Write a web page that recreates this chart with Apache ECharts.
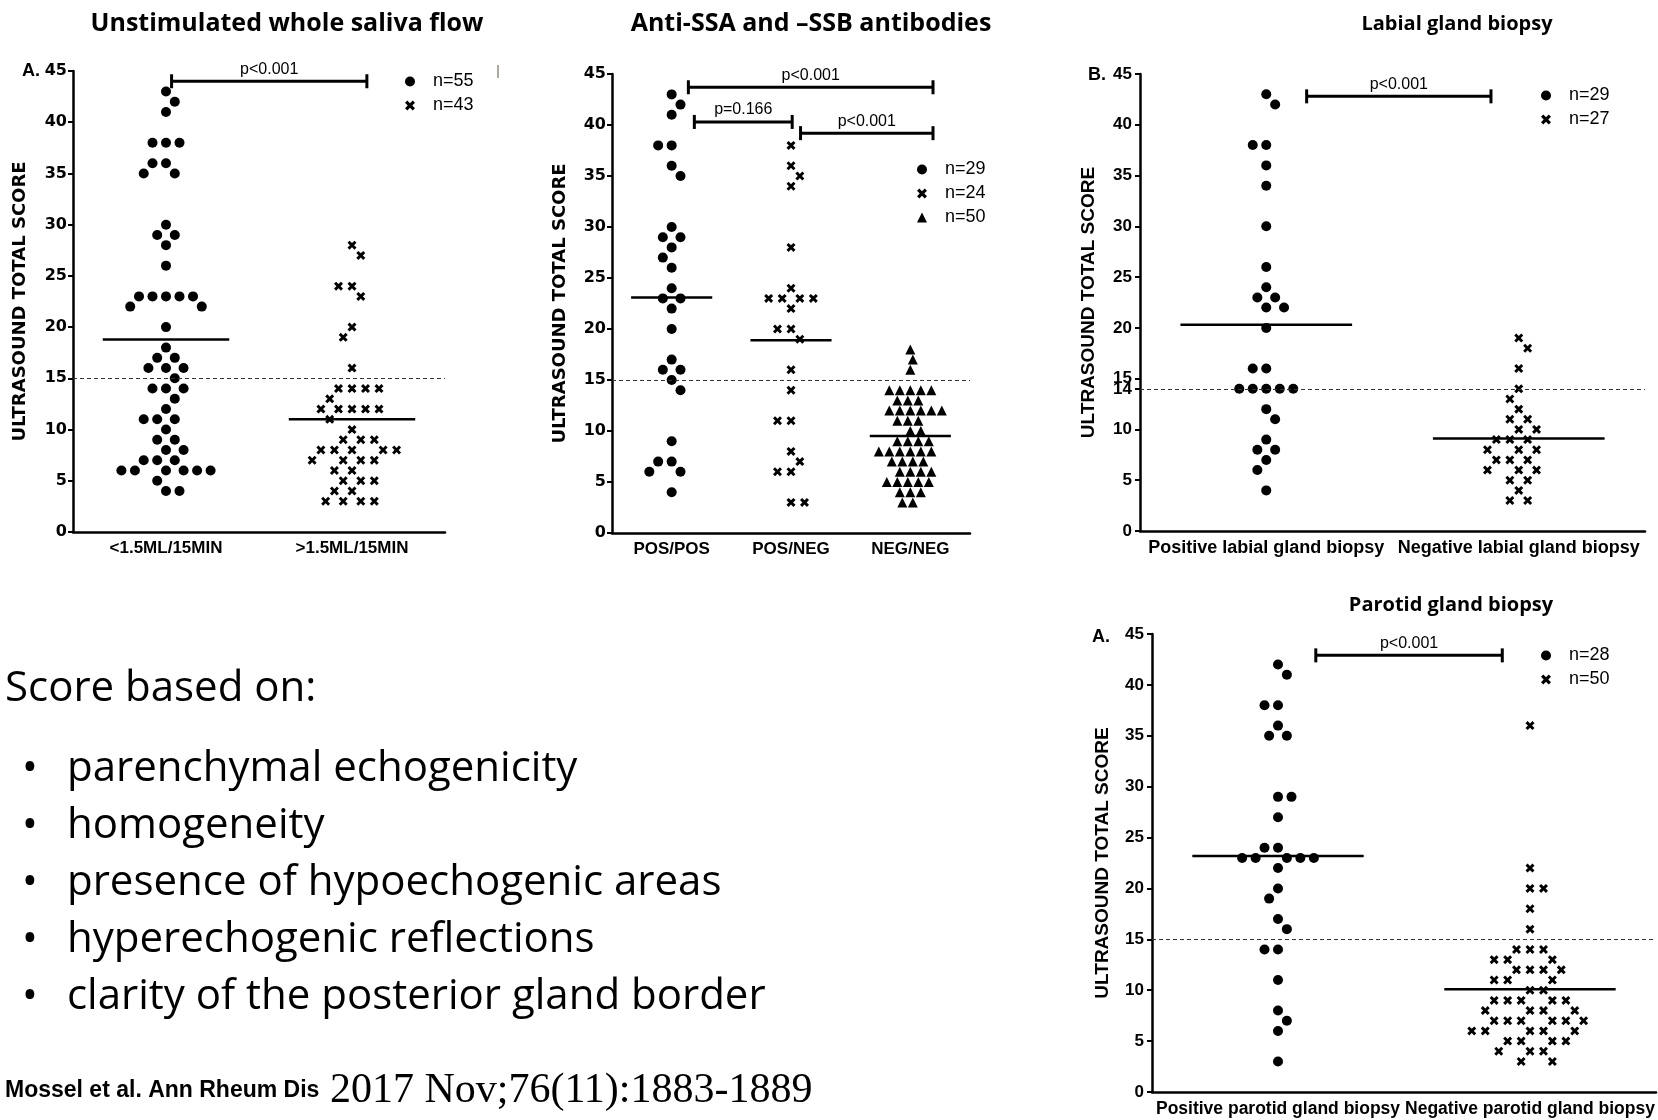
<!DOCTYPE html>
<html><head><meta charset="utf-8">
<script src="https://cdn.jsdelivr.net/npm/echarts@6/dist/echarts.min.js"></script>
<style>html,body{margin:0;padding:0;background:#fff}#c{width:1658px;height:1120px}</style>
</head><body><div id="c"></div>
<script>
// ---------- DATA ----------
const salivaCategories = ['<1.5ML/15MIN', '>1.5ML/15MIN'];
const salivaLow = [43,42,41,38,38,38,36,36,35,35,30,29,29,28,26,23,23,23,23,23,22,22,20,18,17,17,16,16,16,15,14,14,14,13,12,11,11,11,10,9,9,8,8,7,7,7,6,6,6,6,6,6,5,4,4];
const salivaHigh = [28,27,24,24,23,20,19,16,14,14,14,14,13,12,12,12,12,12,11,10,9,9,9,8,8,8,8,8,7,7,7,7,6,6,5,5,5,4,4,3,3,3,3];
const salivaMeans = [18.8, 11.0];
const salivaLegend = ['n=55', 'n=43'];
const salivaBrackets = [{from: 0.03, to: 1.08, y: 44.0, label: 'p<0.001'}];

const abCategories = ['POS/POS', 'POS/NEG', 'NEG/NEG'];
const abPosPos = [43,42,41,38,38,36,35,30,29,29,28,27,26,24,23,23,22,20,17,16,16,15,14,9,7,7,6,6,4];
const abPosNeg = [38,36,35,34,28,24,23,23,23,23,22,20,20,19,16,14,11,11,8,7,6,6,3,3];
const abNegNeg = [18,17,16,14,14,14,14,14,13,13,13,12,12,12,12,12,12,11,11,11,10,10,9,9,9,9,8,8,8,8,8,8,7,7,7,7,6,6,6,6,5,5,5,5,5,4,4,4,3,3];
const abMeans = [23.1, 18.9, 9.5];
const abLegend = ['n=29', 'n=24', 'n=50'];
const abBrackets = [
  {from: 0.14, to: 2.19, y: 43.7, label: 'p<0.001'},
  {from: 0.19, to: 1.01, y: 40.3, label: 'p=0.166'},
  {from: 1.08, to: 2.19, y: 39.2, label: 'p<0.001'}
];

const labialCategories = ['Positive labial gland biopsy', 'Negative labial gland biopsy'];
const labialPos = [43,42,38,38,36,34,30,26,24,23,23,22,22,20,16,16,14,14,14,14,14,12,11,9,8,8,7,6,4];
const labialNeg = [19,18,16,14,13,12,11,11,10,10,9,9,9,8,8,8,7,7,7,6,6,6,5,5,4,3,3];
const labialMeans = [20.3, 9.1];
const labialLegend = ['n=29', 'n=27'];
const labialBrackets = [{from: 0.16, to: 0.89, y: 42.8, label: 'p<0.001'}];

const parotidCategories = ['Positive parotid gland biopsy', 'Negative parotid gland biopsy'];
const parotidPos = [42,41,38,38,36,35,35,29,29,27,24,24,23,23,23,23,23,22,20,19,17,16,14,14,11,8,7,6,3];
const parotidNeg = [36,22,20,20,18,16,14,14,14,13,13,13,12,12,12,12,11,11,11,10,10,9,9,9,9,9,8,8,8,8,7,7,7,7,7,7,6,6,6,6,6,5,5,5,5,4,4,4,3,3];
const parotidMeans = [23.2, 10.1];
const parotidLegend = ['n=28', 'n=50'];
const parotidBrackets = [{from: 0.15, to: 0.89, y: 42.9, label: 'p<0.001'}];

const yTicks = [0,5,10,15,20,25,30,35,40,45];
const labialYTicks = [0,5,10,14,15,20,25,30,35,40,45];
const thresholds = [15, 15, 14, 15];

const panelTitles = ['Unstimulated whole saliva flow', 'Anti-SSA and \u2013SSB antibodies', 'Labial gland biopsy', 'Parotid gland biopsy'];
const yAxisName = 'ULTRASOUND TOTAL SCORE';
const scoreHeading = 'Score based on:';
const scoreItems = ['parenchymal echogenicity', 'homogeneity', 'presence of hypoechogenic areas', 'hyperechogenic reflections', 'clarity of the posterior gland border'];
const citationBold = 'Mossel et al. Ann Rheum Dis';
const citationRest = ' 2017 Nov;76(11):1883-1889';

// ---------- STYLE / LAYOUT ----------
const CROSS = 'path://M2.3,0 L5,2.7 L7.7,0 L10,2.3 L7.3,5 L10,7.7 L7.7,10 L5,7.3 L2.3,10 L0,7.7 L2.7,5 L0,2.3 Z';
const SYM = {circle: {symbol: 'circle', size: 10, D: 13.5}, cross: {symbol: CROSS, size: 9, D: 13.5}, tri: {symbol: 'triangle', size: 10, D: 10.5}};

const panels = [
  {grid: {left: 73, top: 71, width: 372, height: 461}, cats: salivaCategories, groups: [salivaLow, salivaHigh], syms: ['circle','cross'], means: salivaMeans, legend: salivaLegend, legendPos: {left: 405, top: 71}, brackets: salivaBrackets,
   fam: 'DejaVu Sans', xFam: 'Liberation Sans', tickSize: 16, xSize: 17, nameSize: 18, nameGap: 44, margin: 6, ticks: yTicks},
  {grid: {left: 612, top: 74, width: 358, height: 459}, cats: abCategories, groups: [abPosPos, abPosNeg, abNegNeg], syms: ['circle','cross','tri'], means: abMeans, legend: abLegend, legendPos: {left: 917, top: 159}, brackets: abBrackets,
   fam: 'DejaVu Sans', xFam: 'Liberation Sans', tickSize: 16, xSize: 17, nameSize: 18, nameGap: 43, margin: 6, ticks: yTicks},
  {grid: {left: 1140, top: 74, width: 505, height: 457}, cats: labialCategories, groups: [labialPos, labialNeg], syms: ['circle','cross'], means: labialMeans, legend: labialLegend, legendPos: {left: 1541, top: 85}, brackets: labialBrackets,
   fam: 'Liberation Sans', xFam: 'Liberation Sans', tickSize: 17, xSize: 18, nameSize: 19, nameGap: 42, margin: 8, ticks: labialYTicks},
  {grid: {left: 1152, top: 634, width: 504, height: 458}, cats: parotidCategories, groups: [parotidPos, parotidNeg], syms: ['circle','cross'], means: parotidMeans, legend: parotidLegend, legendPos: {left: 1541, top: 645}, brackets: parotidBrackets,
   fam: 'Liberation Sans', xFam: 'Liberation Sans', tickSize: 17, xSize: 17.5, nameSize: 19, nameGap: 40, margin: 8, ticks: yTicks}
];

// beeswarm offsets computed from the values (pixel collision avoidance)
function swarm(values, pxY, D) {
  const order = values.map((v, i) => i).sort((a, b) => values[b] - values[a] || a - b);
  const placed = [];
  const out = new Array(values.length);
  let lastSign = -1;
  for (const i of order) {
    const y = values[i] * pxY;
    const near = placed.filter(p => Math.abs(p.y - y) < D);
    let cands = [0];
    near.forEach(p => { const d = Math.sqrt(D * D - (p.y - y) ** 2); cands.push(p.x + d, p.x - d); });
    cands = cands.filter(c => near.every(p => (c - p.x) ** 2 + (y - p.y) ** 2 >= D * D - 0.01));
    cands.sort((a, b) => {
      const da = Math.abs(a) - Math.abs(b);
      if (Math.abs(da) > 0.01) return da;
      return (Math.sign(b) === -lastSign ? 1 : 0) - (Math.sign(a) === -lastSign ? 1 : 0);
    });
    const x = cands[0];
    if (Math.abs(x) > 0.01) lastSign = Math.sign(x);
    placed.push({x, y});
    out[i] = x;
  }
  return out;
}

const grids = [], xAxes = [], yAxes = [], series = [], legends = [];
const black = '#000';
panels.forEach((P, k) => {
  grids.push(Object.assign({containLabel: false}, P.grid));
  const n = P.cats.length;
  xAxes.push({
    type: 'category', gridIndex: k, data: P.cats, boundaryGap: true,
    axisLine: {onZero: false, lineStyle: {color: black, width: 2.5}},
    axisTick: {alignWithLabel: true, length: 5, lineStyle: {color: black, width: 2}},
    axisLabel: {color: black, fontFamily: P.xFam, fontWeight: 'bold', fontSize: P.xSize, margin: 8, interval: 0},
    splitLine: {show: false}
  });
  xAxes.push({type: 'value', gridIndex: k, min: -0.5, max: n - 0.5, show: false, axisLine: {onZero: false}});
  const yA = {
    type: 'value', gridIndex: k, min: 0, max: 45, interval: 5,
    name: yAxisName, nameLocation: 'middle', nameGap: P.nameGap,
    nameTextStyle: {color: black, fontFamily: P.fam, fontWeight: 'bold', fontSize: P.nameSize},
    axisLine: {show: true, onZero: false, lineStyle: {color: black, width: 2.5}},
    axisTick: {show: true, length: 5, lineStyle: {color: black, width: 2}},
    axisLabel: {color: black, fontFamily: P.fam, fontWeight: 'bold', fontSize: P.tickSize, margin: P.margin},
    splitLine: {show: false}
  };
  if (P.ticks !== yTicks) { yA.axisLabel.customValues = P.ticks; yA.axisTick.customValues = P.ticks; }
  yAxes.push(yA);

  const pxY = P.grid.height / 45, pxX = P.grid.width / n;
  P.groups.forEach((vals, g) => {
    const s = SYM[P.syms[g]];
    const offs = swarm(vals, pxY, s.D);
    const ser = {
      type: 'scatter', name: P.legend[g], xAxisIndex: 2 * k + 1, yAxisIndex: k,
      symbol: s.symbol, symbolSize: s.size, itemStyle: {color: black, opacity: 1}, silent: true, z: 4,
      data: vals.map((v, i) => [g + offs[i] / pxX, v])
    };
    if (g === 0) {
      ser.markLine = {silent: true, symbol: 'none', label: {show: false},
        lineStyle: {type: [4, 3], color: '#333', width: 1, opacity: 1}, data: [{yAxis: thresholds[k]}]};
    }
    series.push(ser);
  });
  // mean lines
  series.push({
    type: 'custom', xAxisIndex: 2 * k + 1, yAxisIndex: k, silent: true, z: 5,
    data: P.means.map((m, i) => [i, m]),
    renderItem: (params, api) => {
      const i = api.value(0), m = api.value(1);
      const a = api.coord([i - 0.34, m]), b = api.coord([i + 0.34, m]);
      return {type: 'line', shape: {x1: a[0], y1: a[1], x2: b[0], y2: b[1]}, style: {stroke: black, lineWidth: 2.5}};
    }
  });
  // significance brackets
  const br = P.brackets;
  series.push({
    type: 'custom', xAxisIndex: 2 * k + 1, yAxisIndex: k, silent: true, z: 5,
    encode: {x: [0, 1], y: 2},
    data: br.map(b => [b.from, b.to, b.y]),
    renderItem: (params, api) => {
      const y = api.value(2);
      const a = api.coord([api.value(0), y]), b = api.coord([api.value(1), y]);
      const h = 7, st = {stroke: black, lineWidth: 3};
      return {type: 'group', children: [
        {type: 'line', shape: {x1: a[0], y1: a[1], x2: b[0], y2: b[1]}, style: st},
        {type: 'line', shape: {x1: a[0], y1: a[1] - h, x2: a[0], y2: a[1] + h}, style: st},
        {type: 'line', shape: {x1: b[0], y1: b[1] - h, x2: b[0], y2: b[1] + h}, style: st},
        {type: 'text', x: (a[0] + b[0]) / 2, y: a[1] - 4, style: {text: br[params.dataIndex].label, align: 'center', verticalAlign: 'bottom',
          fontSize: 16, fontFamily: 'Liberation Sans', fill: black}}
      ]};
    }
  });
  legends.push(Object.assign({
    orient: 'vertical', selectedMode: false, itemWidth: 10, itemHeight: 10, itemGap: 3, padding: 0,
    textStyle: {fontSize: 18, fontFamily: 'Liberation Sans', color: black, padding: [0, 0, 0, 13], lineHeight: 21},
    data: P.legend.map((nm, g) => ({name: nm, icon: SYM[P.syms[g]].symbol, itemStyle: {color: black, opacity: 1}}))
  }, P.legendPos));
});

// ---------- TEXT (titles, labels, notes) ----------
const graphics = [];
[[287, 24, 25], [811, 24, 25], [1457, 24, 20], [1451, 605, 20]].forEach((pos, i) => {
  graphics.push({type: 'text', x: pos[0], y: pos[1], silent: true,
    style: {text: panelTitles[i], align: 'center', verticalAlign: 'middle', fontFamily: 'Open Sans', fontWeight: 'bold', fontSize: pos[2], fill: black}});
});
[['A.', 22, 71], ['B.', 1088, 75], ['A.', 1092, 637]].forEach(t => {
  graphics.push({type: 'text', x: t[1], y: t[2], silent: true,
    style: {text: t[0], fontFamily: 'Liberation Sans', fontWeight: 'bold', fontSize: 18, fill: black, verticalAlign: 'middle'}});
});
graphics.push({type: 'line', silent: true, shape: {x1: 498, y1: 65, x2: 498, y2: 78}, style: {stroke: '#b0a89a', lineWidth: 2}});
const bodyFont = {fontFamily: 'Open Sans', fontSize: 42, fill: black, verticalAlign: 'middle'};
graphics.push({type: 'text', x: 5, y: 689, silent: true, style: Object.assign({text: scoreHeading}, bodyFont)});
scoreItems.forEach((t, i) => {
  const y = 769 + i * 57;
  graphics.push({type: 'text', x: 22, y: y, silent: true, style: Object.assign({text: '\u2022'}, bodyFont)});
  graphics.push({type: 'text', x: 67, y: y, silent: true, style: Object.assign({text: t}, bodyFont)});
});
graphics.push({type: 'text', x: 5, y: 1091, silent: true, style: {
  text: '{b|' + citationBold + '}{r|' + citationRest + '}', verticalAlign: 'middle',
  rich: {b: {fontFamily: 'Liberation Sans', fontWeight: 'bold', fontSize: 23, fill: black, verticalAlign: 'middle'},
         r: {fontFamily: 'Liberation Serif', fontSize: 42, fill: black, verticalAlign: 'middle'}}
}});

const chart = echarts.init(document.getElementById('c'), null, {renderer: 'canvas'});
chart.setOption({
  backgroundColor: '#fff',
  animation: false,
  grid: grids, xAxis: xAxes, yAxis: yAxes, series: series, legend: legends,
  graphic: graphics
});
</script></body></html>
